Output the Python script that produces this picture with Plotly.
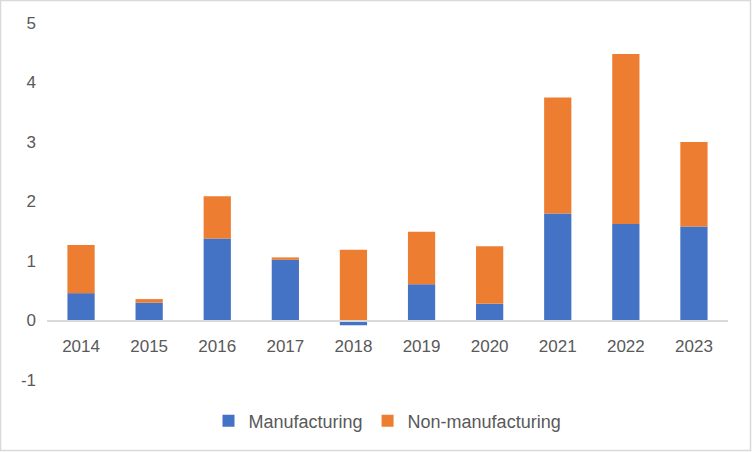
import plotly.graph_objects as go

years = ["2014", "2015", "2016", "2017", "2018", "2019", "2020", "2021", "2022", "2023"]
manufacturing = [0.46, 0.30, 1.38, 1.02, -0.08, 0.61, 0.28, 1.80, 1.62, 1.58]
non_manufacturing = [0.81, 0.06, 0.71, 0.04, 1.19, 0.88, 0.97, 1.95, 2.86, 1.42]
y_ticks = [-1, 0, 1, 2, 3, 4, 5]
y_tick_text = ["-1", "0", "1", "2", "3", "4", "5"]

W, H = 752, 452
L, R, T, B = 47, 24, 23, 72
pw, ph = W - L - R, H - T - B

font_fam = "Liberation Sans, Arial, sans-serif"
grey = "#595959"

fig = go.Figure()
fig.add_trace(go.Bar(x=years, y=manufacturing, name="Manufacturing",
                     marker=dict(color="#4472C4", line=dict(width=0))))
fig.add_trace(go.Bar(x=years, y=non_manufacturing, name="Non-manufacturing",
                     marker=dict(color="#ED7D31", line=dict(width=0))))

zero_pos = (0 - (-1)) / (5 - (-1))

fig.update_layout(
    width=W, height=H,
    barmode="relative",
    bargap=0.6,
    plot_bgcolor="white", paper_bgcolor="white",
    margin=dict(l=L, r=R, t=T, b=B, pad=0),
    font=dict(family=font_fam, size=17, color=grey),
    showlegend=True,
    legend=dict(orientation="h", x=0.5, xanchor="center", y=-0.115, yanchor="middle",
                font=dict(size=18, color=grey), traceorder="normal",
                itemwidth=30, bgcolor="rgba(0,0,0,0)"),
    xaxis=dict(type="category", anchor="free", position=zero_pos,
               showline=True, linecolor="#d9d9d9", linewidth=1.5,
               showgrid=False, ticks="", tickfont=dict(size=17, color=grey),
               ticklabelstandoff=10, zeroline=False),
    yaxis=dict(range=[-1, 5], tickvals=y_ticks, ticktext=y_tick_text,
               showgrid=False, zeroline=False,
               showline=False, ticks="", tickfont=dict(size=17, color=grey),
               ticklabelstandoff=10),
    shapes=[dict(type="rect", xref="paper", yref="paper",
                 x0=(-L + 0.5) / pw, x1=(pw + R - 1.5) / pw,
                 y0=(-B + 1.5) / ph, y1=(ph + T - 0.5) / ph,
                 line=dict(color="#d9d9d9", width=1.5), layer="below")],
)

fig.write_html("out.html", config={"displayModeBar": False},
               post_script="document.body.style.margin='0';document.body.style.overflow='hidden';")
